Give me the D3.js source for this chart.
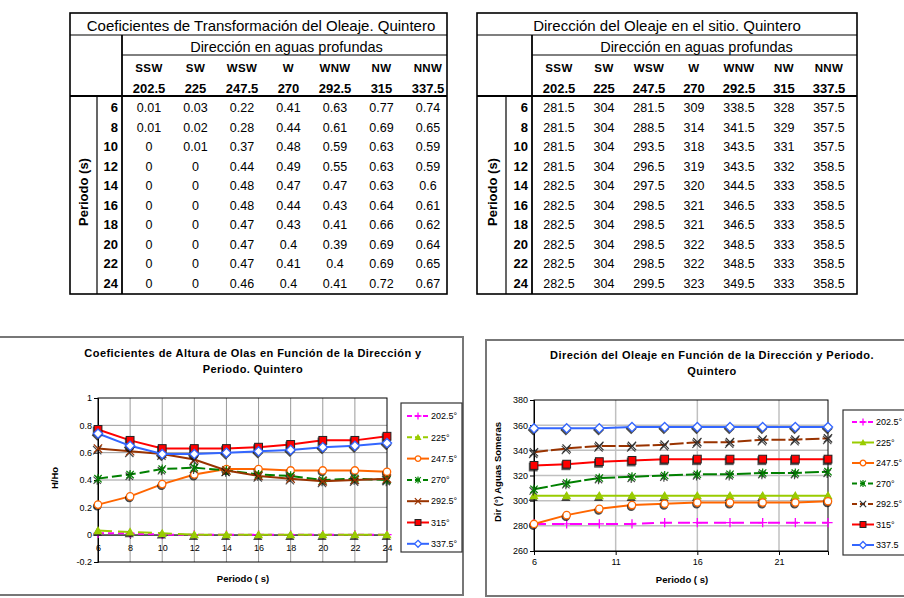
<!DOCTYPE html>
<html><head><meta charset="utf-8">
<script src="https://cdn.jsdelivr.net/npm/d3@7"></script>
<style>body{margin:0;background:#fff} svg{display:block} text{font-family:"Liberation Sans",Arial,sans-serif;fill:#000}</style>
</head><body><svg id="c" width="904" height="598"></svg>
<script>
// ---------- DATA ----------
const periods=[6,8,10,12,14,16,18,20,22,24];
const dirNames=["SSW","SW","WSW","W","WNW","NW","NNW"];
const dirDegrees=["202.5","225","247.5","270","292.5","315","337.5"];
const legend1Labels=["202.5°","225°","247.5°","270°","292.5°","315°","337.5°"];
const legend2Labels=["202.5°","225°","247.5°","270°","292.5°","315°","337.5"];
// Coeficientes de transformación (H/Ho)
const kSSW=[0.01,0.01,0,0,0,0,0,0,0,0];
const kSW=[0.03,0.02,0.01,0,0,0,0,0,0,0];
const kWSW=[0.22,0.28,0.37,0.44,0.48,0.48,0.47,0.47,0.47,0.46];
const kW=[0.41,0.44,0.48,0.49,0.47,0.44,0.43,0.4,0.41,0.4];
const kWNW=[0.63,0.61,0.59,0.55,0.47,0.43,0.41,0.39,0.4,0.41];
const kNW=[0.77,0.69,0.63,0.63,0.63,0.64,0.66,0.69,0.69,0.72];
const kNNW=[0.74,0.65,0.59,0.59,0.6,0.61,0.62,0.64,0.65,0.67];
// Dirección del oleaje en el sitio (°)
const dSSW=[281.5,281.5,281.5,281.5,282.5,282.5,282.5,282.5,282.5,282.5];
const dSW=[304,304,304,304,304,304,304,304,304,304];
const dWSW=[281.5,288.5,293.5,296.5,297.5,298.5,298.5,298.5,298.5,299.5];
const dW=[309,314,318,319,320,321,321,322,322,323];
const dWNW=[338.5,341.5,343.5,343.5,344.5,346.5,346.5,348.5,348.5,349.5];
const dNW=[328,329,331,332,333,333,333,333,333,333];
const dNNW=[357.5,357.5,357.5,358.5,358.5,358.5,358.5,358.5,358.5,358.5];
const y1Ticks=[-0.2,0,0.2,0.4,0.6,0.8,1];
const x1Ticks=[6,8,10,12,14,16,18,20,22,24];
const y2Ticks=[260,280,300,320,340,360,380];
const x2Ticks=[6,11,16,21];

const coefCols=[kSSW,kSW,kWSW,kW,kWNW,kNW,kNNW];
const dirCols=[dSSW,dSW,dWSW,dW,dWNW,dNW,dNNW];

// ---------- STYLES ----------
const styles1=[
 {color:"#FF00FF",marker:"plus",dash:"6,4"},
 {color:"#99CC00",marker:"triangle",dash:"14,6"},
 {color:"#FF6600",marker:"circle",dash:null},
 {color:"#008000",marker:"star",dash:"10,4"},
 {color:"#993300",marker:"x",dash:null,mcolor:"#993300"},
 {color:"#FF0000",marker:"square",dash:null},
 {color:"#3366FF",marker:"diamond",dash:null}
];
const styles2=[
 {color:"#FF00FF",marker:"plus",dash:"12,6"},
 {color:"#99CC00",marker:"triangle",dash:null},
 {color:"#FF6600",marker:"circle",dash:null},
 {color:"#008000",marker:"star",dash:"14,3"},
 {color:"#993300",marker:"x",dash:"14,3",mcolor:"#333"},
 {color:"#FF0000",marker:"square",dash:null},
 {color:"#3366FF",marker:"diamond",dash:null}
];

const svg=d3.select("#c");
svg.append("rect").attr("width",904).attr("height",598).attr("fill","#fff");

// ---------- TABLES ----------
function drawTable(c){
  const g=svg.append("g");
  const line=(x1,y1,x2,y2,w)=>g.append("line").attr("x1",x1).attr("y1",y1).attr("x2",x2).attr("y2",y2).attr("stroke","#000").attr("stroke-width",w);
  g.append("rect").attr("x",c.x0).attr("y",c.y0).attr("width",c.x1-c.x0).attr("height",c.y1-c.y0).attr("fill","none").attr("stroke","#000").attr("stroke-width",1.6);
  line(c.x0,35,c.x1,35,1.2);
  line(c.xP,55,c.x1,55,1);
  line(c.x0,96,c.x1,96,1.8);
  line(c.xP,35,c.xP,c.y1,1.8);
  line(c.xL,96,c.xL,c.y1,1.2);
  g.append("text").attr("x",c.titleX).attr("y",31).attr("text-anchor","middle").style("font-size","15px").text(c.title);
  g.append("text").attr("x",(c.xP+c.x1)/2+2).attr("y",51.5).attr("text-anchor","middle").style("font-size","14.5px").text("Dirección en aguas profundas");
  const xs=d3.scalePoint().domain(dirNames).range(c.colRange);
  dirNames.forEach((n,i)=>{
    g.append("text").attr("x",xs(n)).attr("y",72).attr("text-anchor","middle").style("font-size","11.5px").style("font-weight","bold").style("letter-spacing","0.4px").text(n);
    g.append("text").attr("x",xs(n)).attr("y",93).attr("text-anchor","middle").style("font-size","13px").style("font-weight","bold").text(dirDegrees[i]);
  });
  const ys=d3.scalePoint().domain(periods).range([112,288]);
  periods.forEach((p,j)=>{
    g.append("text").attr("x",c.xP-4).attr("y",ys(p)).attr("text-anchor","end").style("font-size","13px").style("font-weight","bold").text(p);
    c.cols.forEach((col,i)=>{
      g.append("text").attr("x",xs(dirNames[i])).attr("y",ys(p)).attr("text-anchor","middle").style("font-size","12.5px").text(String(col[j]));
    });
  });
  g.append("text").attr("transform",`translate(${c.labelX},192) rotate(-90)`).attr("text-anchor","middle").attr("dy","0.35em").style("font-size","13px").style("font-weight","bold").text("Periodo (s)");
}
drawTable({x0:70,x1:447,y0:13,y1:294,xL:97,xP:122,titleX:261,title:"Coeficientes de Transformación del Oleaje. Quintero",colRange:[149,428],cols:coefCols,labelX:83});
drawTable({x0:477,x1:857,y0:13,y1:294,xL:506,xP:532,titleX:667,title:"Dirección del Oleaje en el sitio. Quintero",colRange:[559,829],cols:dirCols,labelX:492});

// ---------- MARKERS ----------
function shape(m,type,color,s){
  if(type==="plus") m.append("path").attr("d",`M${-s},0H${s}M0,${-s}V${s}`).attr("stroke",color).attr("stroke-width",1.3).attr("fill","none");
  else if(type==="triangle") m.append("path").attr("d",`M0,${-s}L${s},${s*0.8}L${-s},${s*0.8}Z`).attr("fill",color);
  else if(type==="circle") m.append("circle").attr("r",s*0.8).attr("fill","#fff").attr("stroke",color).attr("stroke-width",1.3);
  else if(type==="star") m.append("path").attr("d",`M${-s*0.8},${-s*0.8}L${s*0.8},${s*0.8}M${-s*0.8},${s*0.8}L${s*0.8},${-s*0.8}M0,${-s}V${s}`).attr("stroke",color).attr("stroke-width",1.2).attr("fill","none");
  else if(type==="x") m.append("path").attr("d",`M${-s*0.9},${-s*0.9}L${s*0.9},${s*0.9}M${-s*0.9},${s*0.9}L${s*0.9},${-s*0.9}`).attr("stroke",color).attr("stroke-width",1.2).attr("fill","none");
  else if(type==="square") m.append("rect").attr("x",-s*0.85).attr("y",-s*0.85).attr("width",s*1.7).attr("height",s*1.7).attr("fill","#FF0000").attr("stroke","#222").attr("stroke-width",1);
  else if(type==="diamond") m.append("path").attr("d",`M0,${-s}L${s},0L0,${s}L${-s},0Z`).attr("fill","#fff").attr("stroke",color).attr("stroke-width",1.3);
}
function marker(g,type,color,x,y,s,shadow){
  if(shadow && type!=="plus"){
    const sh=g.append("g").attr("transform",`translate(${x-0.8},${y+1.6})`).attr("opacity",0.75);
    shape(sh,type,"#111",s);
    sh.selectAll("*").attr("fill",function(){return d3.select(this).attr("fill")==="none"?"none":"#111";});
  }
  const m=g.append("g").attr("transform",`translate(${x},${y})`);
  shape(m,type,color,s);
}

// ---------- CHARTS ----------
function drawChart(c){
  const g=svg.append("g");
  g.append("rect").attr("x",c.frame[0]).attr("y",c.frame[1]).attr("width",c.frame[2]).attr("height",c.frame[3]).attr("fill","#fff").attr("stroke","#777").attr("stroke-width",2);
  const x=d3.scaleLinear().domain([6,24]).range(c.xr);
  const y=d3.scaleLinear().domain(c.yd).range(c.yr);
  // grid
  g.append("g").selectAll("line").data(c.yTicks.slice(1,-1)).join("line")
    .attr("x1",c.xr[0]).attr("x2",c.xr[1]).attr("y1",d=>y(d)).attr("y2",d=>y(d)).attr("stroke",c.gridColor).attr("stroke-width",c.gridW);
  g.append("g").selectAll("line").data(c.xGrid).join("line")
    .attr("y1",c.yr[0]).attr("y2",c.yr[1]).attr("x1",d=>x(d)).attr("x2",d=>x(d)).attr("stroke",c.gridColor).attr("stroke-width",c.gridW);
  g.append("rect").attr("x",c.xr[0]).attr("y",c.yr[1]).attr("width",c.xr[1]-c.xr[0]).attr("height",c.yr[0]-c.yr[1]).attr("fill","none").attr("stroke",c.borderColor).attr("stroke-width",1);
  // y axis
  const ya=d3.axisLeft(y).tickValues(c.yTicks).tickSize(4).tickFormat(c.yFmt);
  const yg=g.append("g").attr("transform",`translate(${c.xr[0]},0)`).call(ya);
  yg.select(".domain").attr("stroke","#000");
  yg.selectAll("text").style("font-size","9px").style("font-family","Liberation Sans, Arial, sans-serif").attr("x",-6);
  // x axis
  const xa=d3.axisBottom(x).tickValues(c.xTicks).tickSize(4).tickFormat(d3.format("d"));
  const xg=g.append("g").attr("transform",`translate(0,${y(c.xAt)})`).call(xa);
  xg.select(".domain").attr("stroke","#000");
  xg.selectAll("text").style("font-size","9px").style("font-family","Liberation Sans, Arial, sans-serif").attr("y",c.xLabOff);
  // series
  const ln=d3.line().x((d,i)=>x(periods[i])).y(d=>y(d));
  c.cols.forEach((col,i)=>{
    const st=c.styles[i];
    g.append("path").attr("d",ln(col)).attr("fill","none").attr("stroke",st.color).attr("stroke-width",2).attr("stroke-dasharray",st.dash);
    col.forEach((v,j)=>marker(g,st.marker,st.mcolor||st.color,x(periods[j]),y(v),4.6,true));
  });
  // titles
  c.title.forEach((t,k)=>g.append("text").attr("x",c.titleX).attr("y",c.titleY+k*15.5).attr("text-anchor","middle").style("font-size","11px").style("letter-spacing","0.45px").style("font-weight","bold").text(t));
  g.append("text").attr("x",c.xLab[0]).attr("y",c.xLab[1]).attr("text-anchor","middle").style("font-size","9.5px").style("font-weight","bold").text("Periodo ( s)");
  g.append("text").attr("transform",`translate(${c.yLab[0]},${c.yLab[1]}) rotate(-90)`).attr("text-anchor","middle").attr("dy","0.35em").style("font-size","9.5px").style("font-weight","bold").text(c.yLabel);
  // legend
  const L=c.legend;
  g.append("rect").attr("x",L.x).attr("y",L.y).attr("width",L.w).attr("height",L.h).attr("fill","#fff").attr("stroke","#333").attr("stroke-width",1.2);
  c.labels.forEach((lab,i)=>{
    const st=c.styles[i];const yy=L.y0+i*L.dy;
    g.append("line").attr("x1",L.lx).attr("x2",L.lx+22).attr("y1",yy).attr("y2",yy).attr("stroke",st.color).attr("stroke-width",2).attr("stroke-dasharray",st.dash?"5,3":null);
    marker(g,st.marker,st.mcolor||st.color,L.lx+11,yy,3.5,false);
    g.append("text").attr("x",L.lx+24).attr("y",yy+3.2).style("font-size","9px").text(lab);
  });
}

drawChart({frame:[-2,337,465,258],xr:[98,387],yd:[-0.2,1],yr:[562,398],yTicks:y1Ticks,xTicks:x1Ticks,xGrid:x1Ticks.slice(1,-1),xAt:0,xLabOff:10,
  yFmt:d=>String(d),gridColor:"#9a9a9a",gridW:1,borderColor:"#000",cols:coefCols,styles:styles1,
  title:["Coeficientes de Altura de Olas en Función de la Dirección y","Periodo. Quintero"],titleX:253,titleY:357,
  xLab:[243,582],yLab:[55,478],yLabel:"H/Ho",labels:legend1Labels,
  legend:{x:401,y:403,w:61,h:149,y0:416,dy:21.3,lx:407}});
drawChart({frame:[486,340,430,256],xr:[534,828],yd:[260,380],yr:[551,400],yTicks:y2Ticks,xTicks:x2Ticks,xGrid:[11,16,21],xAt:260,xLabOff:8,
  yFmt:d=>String(d),gridColor:"#c0c0c0",gridW:1.5,borderColor:"#000",cols:dirCols,styles:styles2,
  title:["Direción del Oleaje en Función de la Dirección y Periodo.","Quintero"],titleX:712,titleY:359,
  xLab:[682,583],yLab:[498,472],yLabel:"Dir (°) Aguas Someras",labels:legend2Labels,
  legend:{x:843,y:410,w:80,h:145,y0:422,dy:20.5,lx:852}});
</script></body></html>
